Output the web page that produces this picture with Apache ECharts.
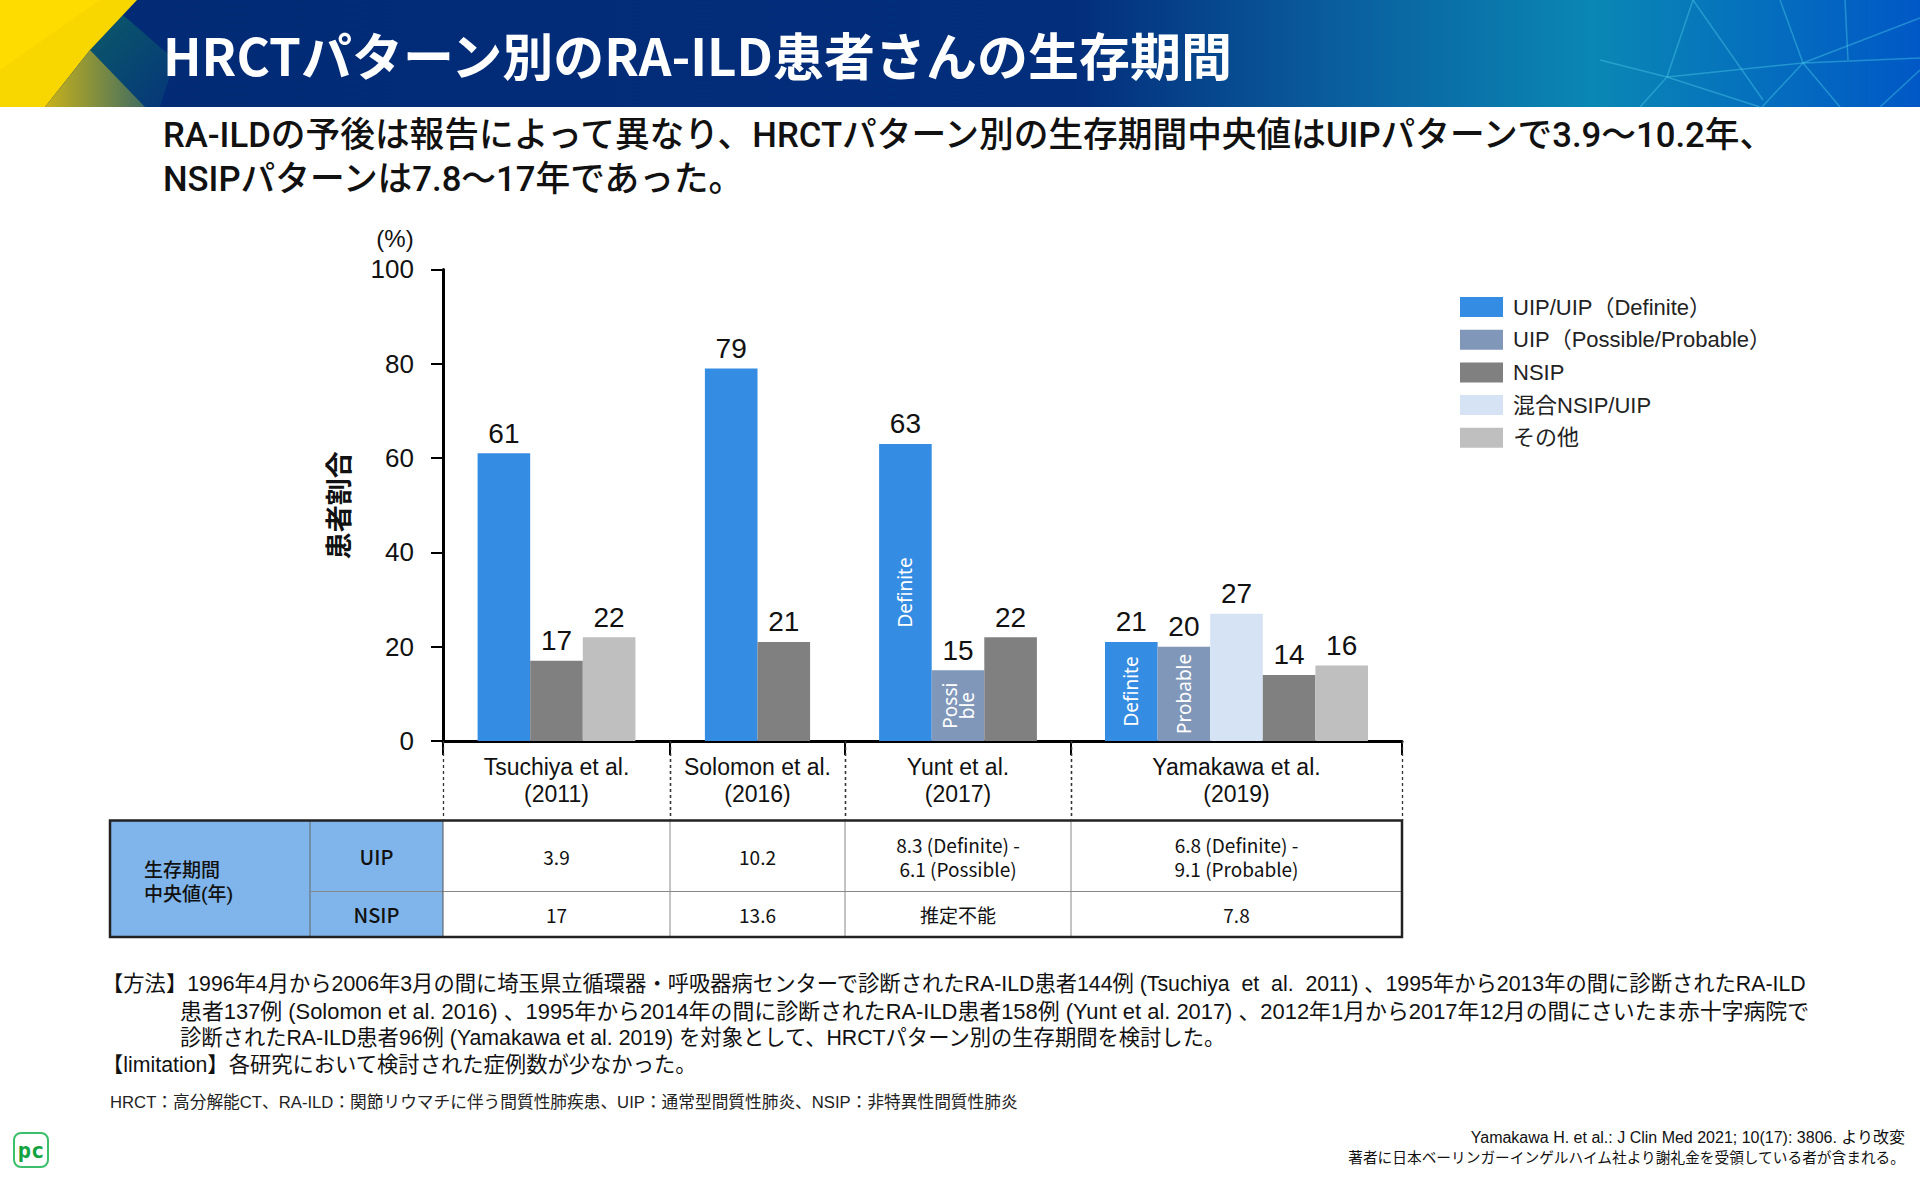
<!DOCTYPE html>
<html>
<head>
<meta charset="utf-8">
<script src="https://cdn.jsdelivr.net/npm/echarts@6/dist/echarts.min.js"></script>
<style>
html,body{margin:0;padding:0;background:#fff;}
#chart{width:1920px;height:1180px;}
</style>
</head>
<body>
<div id="chart"></div>
<script>
// ---------------- data ----------------
const studies = ['Tsuchiya et al.\n(2011)', 'Solomon et al.\n(2016)', 'Yunt et al.\n(2017)', 'Yamakawa et al.\n(2019)'];
const legendNames = ['UIP/UIP（Definite）', 'UIP（Possible/Probable）', 'NSIP', '混合NSIP/UIP', 'その他'];
const uipDefinite = [61, 79, 63, 21];
const uipPossibleProbable = [null, null, 15, 20];
const nsip = [17, 21, 22, 14];
const mixedNsipUip = [null, null, null, 27];
const others = [22, null, null, 16];
const definiteInside = [null, null, 'Definite', 'Definite'];
const possProbInside = [null, null, 'Possi\nble', 'Probable'];
const yTickValues = [0, 20, 40, 60, 80, 100];

const tableHeader = '生存期間\n中央値(年)';
const tableRowLabels = ['UIP', 'NSIP'];
const uipMedianYears = ['3.9', '10.2', '8.3 (Definite) -\n6.1 (Possible)', '6.8 (Definite) -\n9.1 (Probable)'];
const nsipMedianYears = ['17', '13.6', '推定不能', '7.8'];

const titleText = 'HRCTパターン別のRA-ILD患者さんの生存期間';
const subtitleLines = ['RA-ILDの予後は報告によって異なり、HRCTパターン別の生存期間中央値はUIPパターンで3.9〜10.2年、', 'NSIPパターンは7.8〜17年であった。'];
const methodLines = [
  '【方法】1996年4月から2006年3月の間に埼玉県立循環器・呼吸器病センターで診断されたRA-ILD患者144例 (Tsuchiya  et  al.  2011) 、1995年から2013年の間に診断されたRA-ILD',
  '患者137例 (Solomon et al. 2016) 、1995年から2014年の間に診断されたRA-ILD患者158例 (Yunt et al. 2017) 、2012年1月から2017年12月の間にさいたま赤十字病院で',
  '診断されたRA-ILD患者96例 (Yamakawa et al. 2019) を対象として、HRCTパターン別の生存期間を検討した。'
];
const limitationLine = '【limitation】各研究において検討された症例数が少なかった。';
const abbrLine = 'HRCT：高分解能CT、RA-ILD：関節リウマチに伴う間質性肺疾患、UIP：通常型間質性肺炎、NSIP：非特異性間質性肺炎';
const sourceLines = ['Yamakawa H. et al.: J Clin Med 2021; 10(17): 3806. より改変', '著者に日本ベーリンガーインゲルハイム社より謝礼金を受領している者が含まれる。'];

// ---------------- layout / style ----------------
const colors = ['#348ce3', '#8097ba', '#808080', '#d6e3f4', '#bfbfbf'];
const bounds = [443, 670, 845, 1071, 1402];
const plotTop = 269.4, plotBottom = 741;
const barW = 52.6;
const latin = "'Liberation Sans', Arial, 'Noto Sans CJK JP', sans-serif";
const cjk = "'Noto Sans CJK JP', 'Noto Sans', sans-serif";
const compact = "Roboto, 'Noto Sans CJK JP', sans-serif";

const types = [
  { name: legendNames[0], values: uipDefinite, inside: definiteInside, color: colors[0] },
  { name: legendNames[1], values: uipPossibleProbable, inside: possProbInside, color: colors[1] },
  { name: legendNames[3], values: mixedNsipUip, inside: null, color: colors[3] },
  { name: legendNames[2], values: nsip, inside: null, color: colors[2] },
  { name: legendNames[4], values: others, inside: null, color: colors[4] }
];

const grids = [], xAxes = [], yAxes = [], series = [];
studies.forEach((s, g) => {
  grids.push({ left: bounds[g], width: bounds[g + 1] - bounds[g], top: plotTop, height: plotBottom - plotTop });
  xAxes.push({
    type: 'category', gridIndex: g, data: [s], position: 'bottom', boundaryGap: true,
    axisLine: { show: true, lineStyle: { color: '#000', width: 3 } },
    axisTick: { show: true, length: 14, lineStyle: { color: '#000', width: 2 } },
    axisLabel: { interval: 0, margin: 12.5, fontSize: 23, lineHeight: 27, color: '#111', fontFamily: latin }
  });
  xAxes.push({
    type: 'category', gridIndex: g, data: [s], position: 'bottom', boundaryGap: true,
    axisLine: { show: false },
    axisTick: { show: true, length: 80, lineStyle: { color: '#333', width: 1.3, type: [3, 3] } },
    axisLabel: { show: false }
  });
  yAxes.push({
    type: 'value', gridIndex: g, min: yTickValues[0], max: yTickValues[yTickValues.length - 1], interval: 20,
    show: g === 0,
    axisLine: { show: true, lineStyle: { color: '#000', width: 3 } },
    axisTick: { show: true, length: 12, lineStyle: { color: '#000', width: 2 } },
    axisLabel: { margin: 29, fontSize: 26, color: '#111', fontFamily: latin },
    splitLine: { show: false },
    name: g === 0 ? '患者割合' : '', nameLocation: 'middle', nameRotate: 90, nameGap: 92,
    nameTextStyle: { fontSize: 27, fontWeight: 'bold', color: '#111', fontFamily: cjk }
  });
  const present = types.filter(t => t.values[g] != null);
  present.forEach(t => {
    series.push({
      type: 'bar', name: t.name, xAxisIndex: 2 * g, yAxisIndex: g,
      data: [t.values[g]], barWidth: barW, barGap: '0%',
      itemStyle: { color: t.color },
      label: { show: true, position: 'top', distance: 6, fontSize: 28, color: '#111', fontFamily: latin }
    });
  });
  const hasInside = present.some(t => t.inside && t.inside[g]);
  if (hasInside) {
    present.forEach((t, k) => {
      const txt = t.inside && t.inside[g] ? t.inside[g] : '';
      series.push({
        type: 'bar', name: 'inner-' + g + '-' + k, xAxisIndex: 2 * g + 1, yAxisIndex: g,
        data: [t.values[g]], barWidth: barW, barGap: '0%', silent: true,
        itemStyle: { color: 'rgba(0,0,0,0)' },
        label: { show: txt !== '', position: 'inside', rotate: 90, formatter: txt,
          color: '#fff', fontSize: 19, lineHeight: 17, fontFamily: "'Noto Sans', 'DejaVu Sans', sans-serif" }
      });
    });
  }
});

// ---------------- graphic (header, table, notes) ----------------
const graphic = [];
graphic.push({ type: 'rect', shape: { x: 0, y: 0, width: 1920, height: 107 }, style: { fill: {
  type: 'linear', x: 0, y: 0, x2: 1, y2: 0,
  colorStops: [{ offset: 0, color: '#022a75' }, { offset: 0.56, color: '#032e7b' }, { offset: 0.7, color: '#0a5f9e' },
    { offset: 0.83, color: '#0a87b4' }, { offset: 1, color: '#0058c6' }] } }, silent: true });
graphic.push({ type: 'polygon', shape: { points: [[123, 15], [175, 60], [160, 107], [140, 107], [90, 50]] },
  style: { fill: { type: 'linear', x: 0, y: 0, x2: 1, y2: 1, colorStops: [{ offset: 0, color: '#0b5a68' }, { offset: 1, color: '#05357a' }] } }, silent: true });
graphic.push({ type: 'polygon', shape: { points: [[0, 0], [137, 0], [90, 50], [45, 107], [0, 107]] }, style: { fill: '#f8d600' }, silent: true });
graphic.push({ type: 'polygon', shape: { points: [[0, 0], [100, 0], [0, 70]] }, style: { fill: '#ffdc00' }, silent: true });
graphic.push({ type: 'polygon', shape: { points: [[90, 50], [145, 107], [45, 107]] },
  style: { fill: { type: 'linear', x: 0, y: 0, x2: 1, y2: 0, colorStops: [{ offset: 0, color: '#c9b21a' }, { offset: 1, color: '#3f6c62' }] } }, silent: true });
const net = [[1693, 0, 1667, 77], [1693, 0, 1763, 100], [1667, 77, 1803, 63], [1803, 63, 1920, 18], [1803, 63, 1920, 58],
  [1780, 0, 1803, 63], [1803, 63, 1762, 107], [1803, 63, 1840, 107], [1667, 77, 1640, 107], [1845, 0, 1848, 60], [1600, 60, 1667, 77],
  [1880, 107, 1920, 70], [1667, 77, 1760, 107]];
net.forEach(l => graphic.push({ type: 'line', shape: { x1: l[0], y1: l[1], x2: l[2], y2: l[3] },
  style: { stroke: 'rgba(70,200,230,0.45)', lineWidth: 1.5 }, silent: true }));
graphic.push({ type: 'text', x: 163, y: 54, style: { text: titleText, fill: '#fff', fontSize: 51, lineHeight: 60, fontWeight: 'bold', fontFamily: cjk, verticalAlign: 'middle' } });
subtitleLines.forEach((t, i) => graphic.push({ type: 'text', x: 163, y: 135 + i * 44,
  style: { text: t, fill: '#111', fontSize: 34.7, lineHeight: 40, fontWeight: 500, fontFamily: compact, verticalAlign: 'middle' } }));
graphic.push({ type: 'text', x: 395, y: 238, style: { text: '(%)', fill: '#111', fontSize: 24, fontFamily: latin, align: 'center', verticalAlign: 'middle' } });

// table
const tTop = 820.5, tMid = 891.5, tBot = 937, tLeft = 110, tCol1 = 310, tCol2 = 443;
graphic.push({ type: 'rect', shape: { x: tLeft, y: tTop, width: tCol2 - tLeft, height: tBot - tTop }, style: { fill: '#7fb5ea' } });
graphic.push({ type: 'line', shape: { x1: tCol1, y1: tTop, x2: tCol1, y2: tBot }, style: { stroke: '#666', lineWidth: 1 } });
graphic.push({ type: 'line', shape: { x1: tCol1, y1: tMid, x2: bounds[4], y2: tMid }, style: { stroke: '#888', lineWidth: 1 } });
graphic.push({ type: 'line', shape: { x1: tCol2, y1: tTop, x2: tCol2, y2: tBot }, style: { stroke: '#555', lineWidth: 1 } });
for (let g = 1; g < 4; g++) graphic.push({ type: 'line', shape: { x1: bounds[g], y1: tTop, x2: bounds[g], y2: tBot }, style: { stroke: '#888', lineWidth: 1 } });
graphic.push({ type: 'rect', shape: { x: tLeft, y: tTop, width: bounds[4] - tLeft, height: tBot - tTop }, style: { fill: 'none', stroke: '#222', lineWidth: 2.5 } });
graphic.push({ type: 'text', x: 144, y: 882.5, style: { text: tableHeader, fill: '#111', fontSize: 19, lineHeight: 23.5, fontWeight: 500, fontFamily: compact, verticalAlign: 'middle' } });
tableRowLabels.forEach((t, i) => graphic.push({ type: 'text', x: (tCol1 + tCol2) / 2, y: i === 0 ? (tTop + tMid) / 2 : (tMid + tBot) / 2,
  style: { text: t, fill: '#111', fontSize: 20, fontWeight: 500, fontFamily: cjk, align: 'center', verticalAlign: 'middle' } }));
[uipMedianYears, nsipMedianYears].forEach((row, i) => row.forEach((t, g) => graphic.push({ type: 'text',
  x: (bounds[g] + bounds[g + 1]) / 2, y: i === 0 ? (tTop + tMid) / 2 : (tMid + tBot) / 2,
  style: { text: t, fill: '#111', fontSize: 19, lineHeight: 24, fontFamily: cjk, align: 'center', verticalAlign: 'middle' } })));

// notes
const methodSizes = [21.3, 21.9, 21.3];
methodLines.forEach((t, i) => graphic.push({ type: 'text', x: i === 0 ? 102 : 180, y: 984 + i * 27,
  style: { text: t, fill: '#111', fontSize: methodSizes[i], lineHeight: 26, fontFamily: latin, verticalAlign: 'middle' } }));
graphic.push({ type: 'text', x: 102, y: 1065, style: { text: limitationLine, fill: '#111', fontSize: 21.3, lineHeight: 26, fontFamily: latin, verticalAlign: 'middle' } });
graphic.push({ type: 'text', x: 110, y: 1102, style: { text: abbrLine, fill: '#222', fontSize: 16.7, fontFamily: latin, verticalAlign: 'middle' } });
graphic.push({ type: 'text', x: 1905, y: 1137.5, style: { text: sourceLines[0], fill: '#111', fontSize: 16, lineHeight: 19, fontFamily: latin, align: 'right', verticalAlign: 'middle' } });
graphic.push({ type: 'text', x: 1905, y: 1158, style: { text: sourceLines[1], fill: '#111', fontSize: 14.7, lineHeight: 18, fontFamily: latin, align: 'right', verticalAlign: 'middle' } });
// logo
graphic.push({ type: 'rect', shape: { x: 14, y: 1133, width: 34, height: 34, r: 7 }, style: { fill: '#fff', stroke: '#3cbf6a', lineWidth: 2 } });
graphic.push({ type: 'text', x: 31, y: 1150, style: { text: 'pc', fill: '#12a23e', fontSize: 22, fontWeight: 'bold', fontFamily: "'DejaVu Sans Mono', monospace", align: 'center', verticalAlign: 'middle' } });

const chart = echarts.init(document.getElementById('chart'), null, { renderer: 'svg', width: 1920, height: 1180 });
chart.setOption({
  animation: false,
  backgroundColor: '#fff',
  grid: grids,
  xAxis: xAxes,
  yAxis: yAxes,
  legend: {
    data: legendNames, orient: 'vertical', left: 1455, top: 291, itemWidth: 43, itemHeight: 20, itemGap: 10.7,
    icon: 'rect', selectedMode: false,
    textStyle: { fontSize: 22, color: '#222', fontFamily: latin, padding: [0, 0, 0, 5] }
  },
  series: series,
  graphic: graphic
});
</script>
</body>
</html>
